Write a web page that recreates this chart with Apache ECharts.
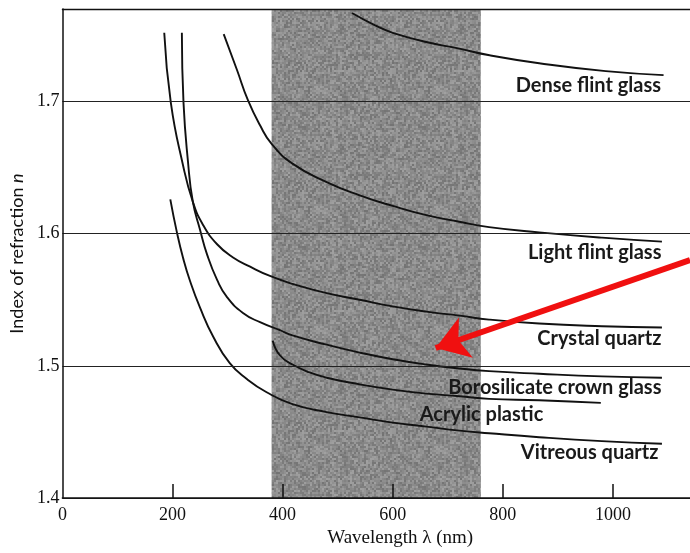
<!DOCTYPE html>
<html><head><meta charset="utf-8">
<script src="https://cdn.jsdelivr.net/npm/echarts@6/dist/echarts.min.js"></script>
<style>html,body{margin:0;padding:0;background:#fff}#c{width:690px;height:553px}</style>
</head><body><div id="c"></div><script>
// wavelength (nm), refractive index n
const denseFlint = [[526,1.767],[571,1.757],[600,1.752],[661,1.745],[721,1.740],[776,1.735],[866,1.729],[987,1.723],[1092,1.720]];
const lightFlint = [[293,1.751],[317,1.724],[337,1.701],[359,1.682],[380,1.668],[418,1.653],[480,1.639],[540,1.629],[600,1.621],[661,1.614],[721,1.609],[775,1.605],[866,1.601],[980,1.597],[1089,1.594]];
const crystalQuartz = [[185,1.752],[197,1.699],[219,1.652],[237,1.624],[255,1.607],[281,1.592],[310,1.582],[341,1.575],[377,1.568],[418,1.562],[480,1.555],[540,1.550],[600,1.545],[661,1.541],[721,1.538],[775,1.535],[866,1.532],[980,1.530],[1089,1.529]];
const borosilicate = [[217,1.752],[220,1.699],[228,1.655],[237,1.624],[250,1.603],[263,1.584],[281,1.565],[299,1.552],[328,1.540],[359,1.533],[395,1.527],[418,1.523],[480,1.516],[540,1.510],[600,1.505],[661,1.501],[721,1.498],[775,1.496],[866,1.494],[980,1.492],[1089,1.491]];
const acrylic = [[382,1.519],[395,1.508],[418,1.501],[449,1.495],[480,1.491],[540,1.486],[600,1.482],[661,1.479],[721,1.477],[775,1.475],[866,1.474],[978,1.472]];
const vitreousQuartz = [[196,1.626],[208,1.601],[219,1.582],[232,1.564],[250,1.544],[274,1.522],[304,1.502],[335,1.490],[371,1.480],[418,1.471],[480,1.465],[540,1.461],[600,1.457],[661,1.454],[721,1.451],[775,1.449],[866,1.446],[980,1.443],[1089,1.441]];
const xTickLabels = [0,200,400,600,800,1000];
const xTickMarks = [200,400,600,800,1000];
const yTickLabels = [1.4,1.5,1.6,1.7];
const visibleBand = [380,760];
const arrowFrom = [1140,1.580];
const arrowTo = [678,1.5135];

// speckled gray texture for the visible band
const tex = document.createElement('canvas');
tex.width = 120; tex.height = 120;
(function(){
  const ctx = tex.getContext('2d');
  for (let by=0;by<60;by++) for (let bx=0;bx<60;bx++){
    let s = Math.sin((by*60+bx)*12.9898+78.233)*43758.5453; s = s-Math.floor(s);
    const g = Math.round(115 + s*46);
    ctx.fillStyle = 'rgb('+g+','+g+','+g+')';
    ctx.fillRect(bx*2,by*2,2,2);
  }
})();

const lineCol = '#111';
function curve(name, data, off){
  return {
    type:'line', name, data, smooth:0.5, symbol:'none', z:2,
    lineStyle:{color:lineCol,width:1.9},
    markPoint:{
      silent:true, symbol:'circle', symbolSize:1, itemStyle:{color:'rgba(0,0,0,0)'},
      data:[{coord:data[data.length-1]}],
      label:{show:true, position:'left', distance:0, offset:off, formatter:name,
        fontFamily:'Lato', fontWeight:'bold', fontSize:20, color:'#1a1a1a'}
    }
  };
}

const chart = echarts.init(document.getElementById('c'), null, {renderer:'canvas'});
chart.setOption({
  animation:false,
  backgroundColor:'#fff',
  grid:{left:62,right:0,top:9,bottom:52},
  xAxis:[{
    type:'value', min:0, max:1140, interval:200, position:'bottom', z:3,
    axisLine:{show:true,lineStyle:{color:lineCol,width:1.5}},
    axisTick:{show:true,inside:true,length:14,customValues:xTickMarks,lineStyle:{color:lineCol,width:1.5}},
    axisLabel:{customValues:xTickLabels,formatter:v=>String(v),margin:8,fontFamily:'Liberation Serif',fontSize:18,color:'#111'},
    splitLine:{show:false},
    name:'Wavelength λ (nm)', nameLocation:'middle', nameGap:31,
    nameTextStyle:{fontFamily:'Liberation Serif',fontSize:19,color:'#111',padding:[0,0,0,48]}
  },{
    type:'value', min:0, max:1140, position:'top', z:3,
    axisLine:{show:true,lineStyle:{color:lineCol,width:1.3}},
    axisTick:{show:false}, axisLabel:{show:false}, splitLine:{show:false}
  }],
  yAxis:{
    type:'value', min:1.4, max:1.77, interval:0.1, z:3,
    axisLine:{show:true,lineStyle:{color:lineCol,width:1.5}},
    axisTick:{show:false},
    axisLabel:{customValues:yTickLabels,margin:3,formatter:v=>v.toFixed(1),fontFamily:'Liberation Serif',fontSize:18,color:'#111'},
    splitLine:{show:true,lineStyle:{color:'#222',width:1.2}},
    name:'Index of refraction {i|n}', nameLocation:'middle', nameGap:27,
    nameTextStyle:{fontFamily:'Lato',fontSize:18,color:'#111',rich:{i:{fontFamily:'Lato',fontStyle:'italic',fontSize:18,color:'#111'}}}
  },
  series:[
    {type:'line', data:[], z:1, silent:true,
     markArea:{silent:true, itemStyle:{color:{image:tex,repeat:'repeat'},opacity:1},
       data:[[{xAxis:visibleBand[0]},{xAxis:visibleBand[1]}]]}},
    curve('Dense flint glass', denseFlint, [-2,10]),
    curve('Light flint glass', lightFlint, [0,11]),
    curve('Crystal quartz', crystalQuartz, [0,11]),
    curve('Borosilicate crown glass', borosilicate, [0,10]),
    curve('Acrylic plastic', acrylic, [-57,12]),
    curve('Vitreous quartz', vitreousQuartz, [-3,9]),
    {type:'line', data:[], z:6, silent:true,
     markLine:{silent:true, symbol:['none','arrow'], symbolSize:32, label:{show:false},
       lineStyle:{color:'#f01010',width:6,type:'solid'},
       data:[[{coord:arrowFrom},{coord:arrowTo}]]}}
  ]
});
</script></body></html>
